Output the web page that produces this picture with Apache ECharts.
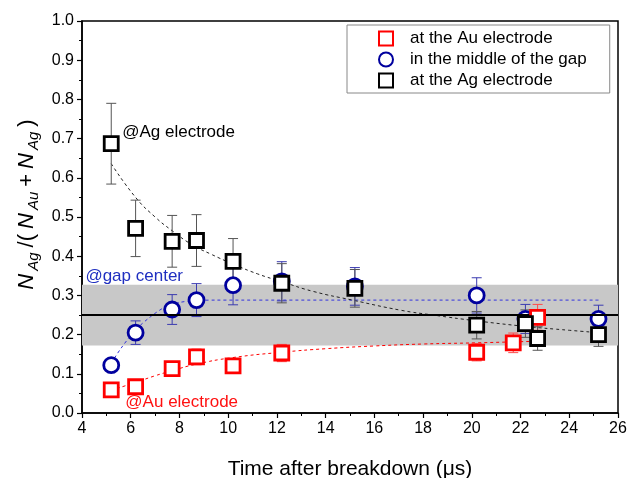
<!DOCTYPE html>
<html><head><meta charset="utf-8">
<script src="https://cdn.jsdelivr.net/npm/echarts@6/dist/echarts.min.js"></script>
<style>html,body{margin:0;padding:0;background:#fff}#c{width:628px;height:478px}</style>
</head><body><div id="c"></div><script>
// ---- data ----
const auT   = [5.2, 6.2, 7.7, 8.7, 10.2, 12.2, 20.2, 21.7, 22.7];
const auY   = [0.059, 0.067, 0.113, 0.143, 0.120, 0.153, 0.155, 0.179, 0.244];
const auErr = [0.010, 0.010, 0.012, 0.020, 0.012, 0.022, 0.022, 0.025, 0.033];

const gapT   = [5.2, 6.2, 7.7, 8.7, 10.2, 12.2, 15.2, 20.2, 22.2, 25.2];
const gapY   = [0.122, 0.205, 0.264, 0.288, 0.326, 0.336, 0.323, 0.300, 0.240, 0.240];
const gapErr = [0.010, 0.030, 0.038, 0.042, 0.050, 0.050, 0.048, 0.045, 0.037, 0.035];

const agT   = [5.2, 6.2, 7.7, 8.7, 10.2, 12.2, 15.2, 20.2, 22.2, 22.7, 25.2];
const agY   = [0.687, 0.471, 0.438, 0.440, 0.387, 0.331, 0.318, 0.224, 0.228, 0.190, 0.200];
const agErr = [0.103, 0.072, 0.066, 0.066, 0.058, 0.050, 0.048, 0.035, 0.035, 0.030, 0.030];

// dashed guide curves
const auFitT = [5.2, 6.2, 7.0, 7.7, 8.65, 10.15, 12.2, 14.0, 16.0, 18.0, 20.2, 22.6];
const auFitY = [0.058, 0.078, 0.095, 0.108, 0.124, 0.141, 0.155, 0.164, 0.171, 0.176, 0.179, 0.183];
const gapFitT = [5.2, 5.6, 6.2, 6.8, 7.4, 8.0, 8.7, 9.5, 25.2];
const gapFitY = [0.127, 0.165, 0.212, 0.245, 0.270, 0.282, 0.287, 0.288, 0.288];
const agFitT = [5.2, 6.2, 7.0, 7.7, 8.5, 9.3, 10.2, 11.2, 12.2, 13.5, 15.1, 17.1, 18.4, 20.2, 22.2, 24.0, 25.2];
const agFitY = [0.636, 0.550, 0.500, 0.465, 0.430, 0.405, 0.380, 0.355, 0.335, 0.310, 0.288, 0.262, 0.250, 0.235, 0.221, 0.211, 0.205];

// reference band and line
const bandLow = 0.172, bandHigh = 0.327, refLine = 0.25;

const xTicks = [4, 26, 2];
const yTicks = [0, 1, 0.1];

const names = ['at the Au electrode', 'in the middle of the gap', 'at the Ag electrode'];
const notes = ['@Au electrode', '@gap center', '@Ag electrode'];
const noteAt = [[5.78, 0.027], [4.14, 0.349], [5.65, 0.716]];

// ---- build ----
const zip = (a, b, c) => a.map((v, i) => c ? [v, b[i], c[i]] : [v, b[i]]);
const FONT = 'Liberation Sans, Arial, sans-serif';

function errRender(color) {
  return function (params, api) {
    const x = api.value(0), y = api.value(1), e = api.value(2);
    const t = api.coord([x, y + e]), b = api.coord([x, y - e]);
    const hw = 5;
    const st = { stroke: color, lineWidth: 1 };
    return { type: 'group', children: [
      { type: 'line', shape: { x1: t[0], y1: t[1], x2: b[0], y2: b[1] }, style: st },
      { type: 'line', shape: { x1: t[0] - hw, y1: t[1], x2: t[0] + hw, y2: t[1] }, style: st },
      { type: 'line', shape: { x1: b[0] - hw, y1: b[1], x2: b[0] + hw, y2: b[1] }, style: st }
    ]};
  };
}

const RED = '#ff0000', BLUE = '#00009e', BLACK = '#000000';
const noteColors = ['#ff1010', '#1f2fc0', '#000000'];

function noteSeries(i) {
  return { type: 'scatter', data: [noteAt[i]], symbolSize: 0, silent: true, z: 7, clip: false,
    itemStyle: { opacity: 1 },
    label: { show: true, position: 'right', distance: 0, formatter: notes[i], overflow: 'none',
      fontFamily: FONT, fontSize: 17, color: noteColors[i], opacity: 1 } };
}

const option = {
  animation: false,
  backgroundColor: '#fff',
  grid: { left: 82, right: 10, top: 21, bottom: 65, containLabel: false, outerBoundsMode: 'none',
    show: true, borderColor: '#000', borderWidth: 1.5, backgroundColor: 'transparent' },
  legend: {
    data: names,
    orient: 'vertical',
    left: 347, top: 25,
    padding: [5, 23, 4, 31],
    itemGap: 4,
    itemWidth: 14, itemHeight: 14,
    borderColor: '#888', borderWidth: 1,
    textStyle: { fontFamily: FONT, fontSize: 17, color: '#000', padding: [0, 0, 0, 12] }
  },
  xAxis: {
    type: 'value', min: xTicks[0], max: xTicks[1], interval: xTicks[2],
    name: 'Time after breakdown (\u03bcs)', nameLocation: 'middle', nameGap: 46,
    nameTextStyle: { fontFamily: FONT, fontSize: 21, color: '#000' },
    axisLine: { show: true, onZero: false, lineStyle: { color: '#000', width: 1.5 } },
    axisTick: { show: true, length: 5, lineStyle: { color: '#000', width: 1.2 } },
    minorTick: { show: true, splitNumber: 2, length: 3, lineStyle: { color: '#000', width: 1 } },
    axisLabel: { fontFamily: FONT, fontSize: 16, color: '#000', margin: 8 },
    splitLine: { show: false }
  },
  yAxis: {
    type: 'value', min: yTicks[0], max: yTicks[1], interval: yTicks[2],
    name: '{n|N}{s|Ag}{p|/(}{n|N}{s|Au}{p|+}{n|N}{s|Ag}{p|)}',
    nameLocation: 'middle', nameGap: 41, nameRotate: 90,
    nameTextStyle: {
      fontFamily: FONT, color: '#000', padding: [0, 0, 0, 24],
      rich: {
        n: { fontFamily: FONT, fontSize: 22, fontStyle: 'italic', color: '#000', lineHeight: 28, verticalAlign: 'middle', padding: [0, 3, 0, 3] },
        p: { fontFamily: FONT, fontSize: 22, color: '#000', lineHeight: 28, verticalAlign: 'middle', padding: [0, 2, 0, 2] },
        s: { fontFamily: FONT, fontSize: 15, fontStyle: 'italic', color: '#000', lineHeight: 17, verticalAlign: 'bottom', padding: [0, 3, 0, 0] }
      }
    },
    axisLine: { show: true, onZero: false, lineStyle: { color: '#000', width: 1.5 } },
    axisTick: { show: true, length: 5, lineStyle: { color: '#000', width: 1.2 } },
    minorTick: { show: true, splitNumber: 2, length: 3, lineStyle: { color: '#000', width: 1 } },
    axisLabel: { fontFamily: FONT, fontSize: 16, color: '#000', margin: 8, formatter: v => v.toFixed(1) },
    splitLine: { show: false }
  },
  series: [
    { // band + reference line
      type: 'line', data: [], silent: true, z: 1,
      markArea: { silent: true, itemStyle: { color: '#c8c8c8' },
        data: [[{ yAxis: bandLow, xAxis: xTicks[0] }, { yAxis: bandHigh, xAxis: xTicks[1] }]] },
      markLine: { silent: true, symbol: 'none', label: { show: false },
        lineStyle: { color: '#000', width: 2, type: 'solid' },
        data: [{ yAxis: refLine }] }
    },
    { type: 'line', data: zip(auFitT, auFitY), showSymbol: false, symbol: 'none', smooth: true, z: 2,
      lineStyle: { color: RED, width: 1, type: [3, 3] }, silent: true },
    { type: 'line', data: zip(gapFitT, gapFitY), showSymbol: false, symbol: 'none', smooth: 0.3, z: 2,
      lineStyle: { color: '#3333dd', width: 1, type: [3, 3] }, silent: true },
    { type: 'line', data: zip(agFitT, agFitY), showSymbol: false, symbol: 'none', smooth: true, z: 2,
      lineStyle: { color: '#222', width: 1, type: [3, 3] }, silent: true },
    { type: 'custom', renderItem: errRender('#3b3bb0'), data: zip(gapT, gapY, gapErr), z: 3, silent: true },
    { type: 'custom', renderItem: errRender('#ff4a4a'), data: zip(auT, auY, auErr), z: 3, silent: true },
    { type: 'custom', renderItem: errRender('#555555'), data: zip(agT, agY, agErr), z: 3, silent: true },
    { name: names[1], type: 'scatter', data: zip(gapT, gapY), symbol: 'circle', symbolSize: 15, z: 4,
      itemStyle: { color: '#fff', borderColor: BLUE, borderWidth: 2.8, opacity: 1 } },
    { name: names[0], type: 'scatter', data: zip(auT, auY), symbol: 'rect', symbolSize: 14, z: 5,
      itemStyle: { color: '#fff', borderColor: RED, borderWidth: 2.8, opacity: 1 } },
    { name: names[2], type: 'scatter', data: zip(agT, agY), symbol: 'rect', symbolSize: 14, z: 6,
      itemStyle: { color: '#fff', borderColor: BLACK, borderWidth: 2.8, opacity: 1 } },
    noteSeries(0), noteSeries(1), noteSeries(2)
  ]
};

const chart = echarts.init(document.getElementById('c'), null, { renderer: 'canvas' });
chart.setOption(option);
</script></body></html>
